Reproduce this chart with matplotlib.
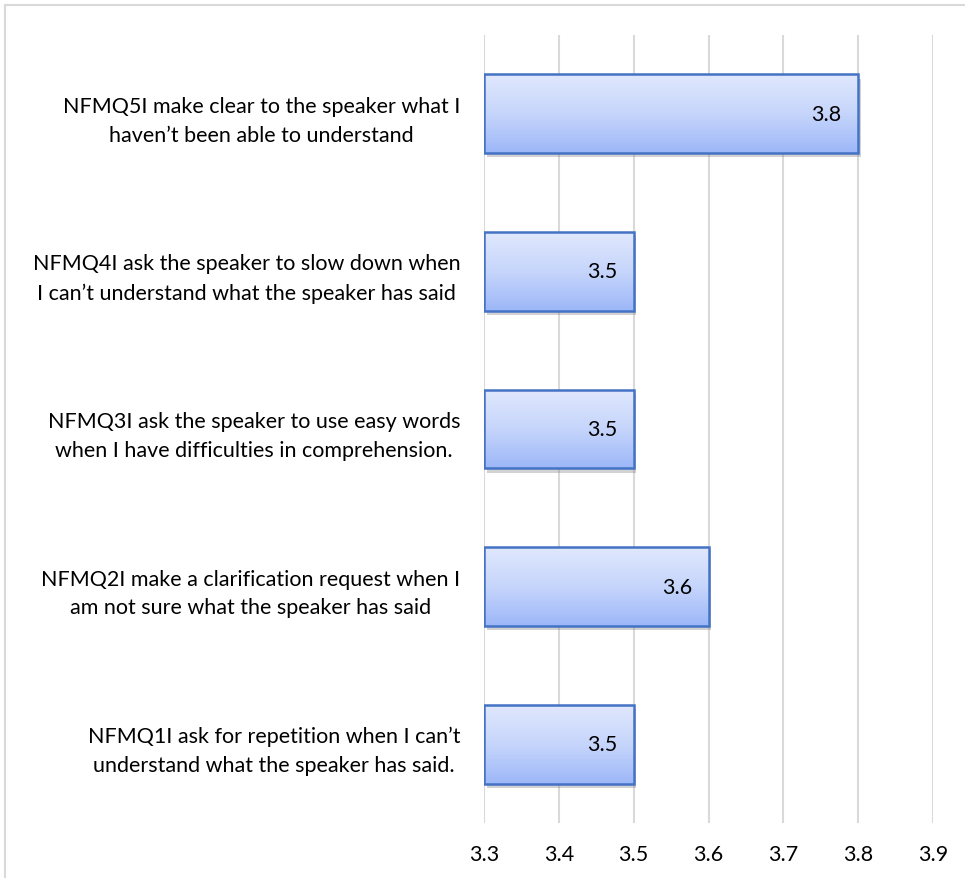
import numpy as np
import matplotlib.pyplot as plt
from matplotlib import patheffects
from matplotlib.colors import LinearSegmentedColormap
from matplotlib.patches import Rectangle

plt.rcParams['font.family'] = ['Lato', 'DejaVu Sans']

# survey items, bottom to top
items = [
    "NFMQ1I ask for repetition when I can\u2019t\nunderstand what the speaker has said.",
    "NFMQ2I make a clarification request when I\nam not sure what the speaker has said",
    "NFMQ3I ask the speaker to use easy words\nwhen I have difficulties in comprehension.",
    "NFMQ4I ask the speaker to slow down when\nI can\u2019t understand what the speaker has said",
    "NFMQ5I make clear to the speaker what I\nhaven\u2019t been able to understand",
]
means = [3.5, 3.6, 3.5, 3.5, 3.8]
xticks = [3.3, 3.4, 3.5, 3.6, 3.7, 3.8, 3.9]

FS = 15.5
W, H = 965, 879
fig = plt.figure(figsize=(W / 100, H / 100), dpi=100)

# light outer frame of the chart area
fig.patches.append(Rectangle((5 / W, -0.05), 1.05, 1 - 6 / H + 0.05,
                             transform=fig.transFigure, fill=False,
                             edgecolor='#d9d9d9', linewidth=1.5))

ax = fig.add_axes([484 / W, 55 / H, 449 / W, (824 - 36) / H])
ax.set_xlim(3.3, 3.9)
ax.set_ylim(-0.5, len(items) - 0.5)

y = np.arange(len(items))
base = 3.3
widths = [m - base for m in means]

# bars with a soft drop shadow
bars = ax.barh(y, widths, left=base, height=0.5, color='#c7d6fb', zorder=2,
               path_effects=[patheffects.SimplePatchShadow(offset=(2, -3), shadow_rgbFace='#808080', alpha=0.35),
                             patheffects.Normal()])

# vertical gradient fill clipped to each bar
cmap = LinearSegmentedColormap.from_list('bluegrad', ['#e0e8fd', '#c6d5fb', '#9cb7f8'])
grad = np.linspace(0, 1, 256).reshape(-1, 1)
for b in bars:
    x0, y0 = b.get_x(), b.get_y()
    w, h = b.get_width(), b.get_height()
    im = ax.imshow(grad, cmap=cmap, aspect='auto', extent=(x0, x0 + w, y0, y0 + h),
                   origin='upper', zorder=2.5)
    im.set_clip_path(b)

ax.barh(y, widths, left=base, height=0.5, facecolor='none', edgecolor='#4472c4',
        linewidth=1.8, zorder=3)

for yi, m in zip(y, means):
    ax.annotate(f"{m:.1f}", xy=(m, yi), xytext=(-12, 0), textcoords='offset points',
                ha='right', va='center', fontsize=FS, color='#000000', zorder=4)

ax.set_xticks(xticks)
ax.set_xticklabels([f"{t:.1f}" for t in xticks], fontsize=FS)
ax.set_yticks(y)
ax.set_yticklabels(items, fontsize=FS, multialignment='center', linespacing=1.55)
ax.tick_params(axis='both', length=0)
ax.tick_params(axis='x', pad=15)
ax.tick_params(axis='y', pad=17)
ax.grid(axis='x', color='#d9d9d9', linewidth=1.5, zorder=0)
ax.set_axisbelow(True)
for s in ax.spines.values():
    s.set_visible(False)

fig.savefig('out.png', dpi=100)
